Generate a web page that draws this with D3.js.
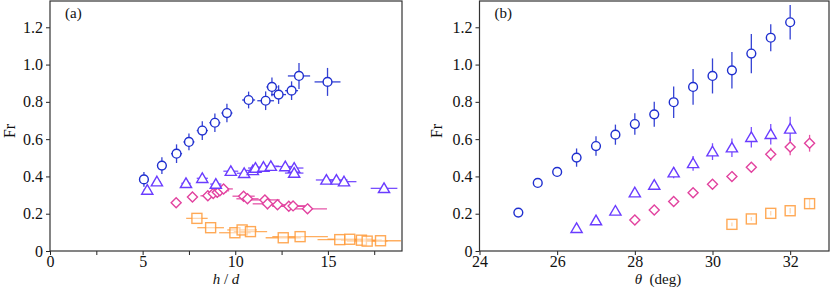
<!DOCTYPE html>
<html>
<head>
<meta charset="utf-8">
<script src="https://cdn.jsdelivr.net/npm/d3@7"></script>
<style>
  body { margin: 0; background: #fff; }
  svg { display: block; }
  svg text { font-family: "Liberation Serif", "DejaVu Serif", serif; }
</style>
</head>
<body>
<div id="chart"></div>
<script>
// ---- panel (a): Fr vs h/d ----
const aCircX    = [5.07, 6.04, 6.83, 7.50, 8.22, 8.90, 9.55, 10.72, 11.64, 11.98, 12.34, 13.04, 13.44, 14.98];
const aCircY    = [0.384, 0.458, 0.522, 0.585, 0.646, 0.688, 0.740, 0.810, 0.806, 0.880, 0.839, 0.860, 0.939, 0.907];
const aCircXErr = [0.25, 0.25, 0.3, 0.3, 0.3, 0.3, 0.3, 0.35, 0.45, 0.3, 0.4, 0.35, 0.6, 0.7];
const aCircYErr = [0.04, 0.045, 0.05, 0.045, 0.05, 0.05, 0.05, 0.045, 0.05, 0.05, 0.05, 0.05, 0.07, 0.075];

const aTriX    = [5.25, 5.77, 7.34, 8.22, 8.95, 9.76, 10.48, 10.95, 11.09, 11.52, 11.92, 12.70, 13.18, 13.18, 14.92, 15.46, 15.87, 18.03];
const aTriY    = [0.327, 0.372, 0.363, 0.390, 0.359, 0.428, 0.417, 0.432, 0.445, 0.450, 0.455, 0.453, 0.445, 0.418, 0.381, 0.381, 0.372, 0.336];
const aTriXErr = [0.2, 0.2, 0.25, 0.3, 0.3, 0.4, 0.4, 0.45, 0.4, 0.45, 0.45, 0.5, 0.5, 0.5, 0.57, 0.6, 0.67, 0.72];
const aTriYErr = [0.02, 0.015, 0.015, 0.02, 0.02, 0.015, 0.015, 0.02, 0.02, 0.02, 0.02, 0.02, 0.02, 0.02, 0.01, 0.01, 0.01, 0.01];

const aDiaX    = [6.81, 7.69, 8.52, 8.81, 9.03, 9.17, 9.37, 10.45, 10.66, 11.60, 11.74, 12.28, 12.89, 13.12, 13.90];
const aDiaY    = [0.259, 0.290, 0.296, 0.309, 0.315, 0.323, 0.333, 0.294, 0.280, 0.274, 0.253, 0.248, 0.240, 0.242, 0.226];
const aDiaXErr = [0.15, 0.2, 0.4, 0.4, 0.5, 0.5, 0.5, 0.6, 0.6, 0.8, 0.8, 0.8, 0.9, 0.9, 1.05];
const aDiaYErr = [0.01, 0.01, 0.015, 0.02, 0.03, 0.02, 0.02, 0.015, 0.02, 0.025, 0.03, 0.02, 0.02, 0.02, 0.015];

const aSqX    = [7.93, 8.67, 9.98, 10.37, 10.82, 12.59, 13.50, 15.64, 16.18, 16.81, 17.12, 17.84];
const aSqY    = [0.175, 0.125, 0.098, 0.113, 0.104, 0.071, 0.077, 0.061, 0.063, 0.058, 0.053, 0.055];
const aSqXErr = [0.58, 0.72, 0.85, 0.8, 0.9, 0.95, 1.5, 1.2, 1.2, 1.1, 1.1, 1.1];

// ---- panel (b): Fr vs theta ----
const bCircX    = [25, 25.5, 26, 26.5, 27, 27.5, 28, 28.5, 29, 29.5, 30, 30.5, 31, 31.5, 32];
const bCircY    = [0.206, 0.365, 0.424, 0.501, 0.563, 0.624, 0.681, 0.733, 0.798, 0.880, 0.939, 0.969, 1.059, 1.144, 1.227];
const bCircYErr = [0.01, 0.01, 0.01, 0.049, 0.052, 0.054, 0.058, 0.067, 0.085, 0.096, 0.094, 0.098, 0.105, 0.072, 0.092];

const bTriX    = [26.5, 27, 27.5, 28, 28.5, 29, 29.5, 30, 30.5, 31, 31.5, 32];
const bTriY    = [0.122, 0.163, 0.215, 0.313, 0.354, 0.420, 0.470, 0.533, 0.554, 0.610, 0.626, 0.655];
const bTriYErr = [0.01, 0.01, 0.01, 0.01, 0.015, 0.03, 0.04, 0.045, 0.05, 0.055, 0.055, 0.065];

const bDiaX    = [28, 28.5, 29, 29.5, 30, 30.5, 31, 31.5, 32, 32.5];
const bDiaY    = [0.166, 0.220, 0.265, 0.313, 0.358, 0.399, 0.449, 0.519, 0.558, 0.578];
const bDiaYErr = [0.01, 0.01, 0.01, 0.01, 0.015, 0.015, 0.02, 0.035, 0.045, 0.045];

const bSqX    = [30.5, 31, 31.5, 32, 32.5];
const bSqY    = [0.143, 0.172, 0.202, 0.216, 0.254];
const bSqYErr = [0.01, 0.01, 0.012, 0.015, 0.025];

const yTicks = [0, 0.2, 0.4, 0.6, 0.8, 1.0, 1.2];
const aXTicks = [0, 2.5, 5, 7.5, 10, 12.5, 15, 17.5];
const bXTicks = [24, 26, 28, 30, 32];

const colors = { circ: "#1f2fcf", tri: "#6a3cff", dia: "#e2429f", sq: "#ff9a38" };
const serif = '"Liberation Serif", "DejaVu Serif", serif';

const width = 830, height = 289;
const svg = d3.select("#chart").append("svg")
  .attr("width", width).attr("height", height);
svg.append("rect").attr("width", width).attr("height", height).attr("fill", "#fff");

const y = d3.scaleLinear().domain([0, 1.341]).range([251, 1]);
const xa = d3.scaleLinear().domain([0, 19]).range([50, 402]);
const xb = d3.scaleLinear().domain([24, 33]).range([479.5, 829]);

const symbols = {
  circ: g => g.append("circle").attr("r", 4.4),
  tri:  g => g.append("path").attr("d", "M0,-5.4 L5.6,4.2 L-5.6,4.2 Z"),
  dia:  g => g.append("path").attr("d", "M0,-5 L5,0 L0,5 L-5,0 Z"),
  sq:   g => g.append("rect").attr("x", -5).attr("y", -5).attr("width", 10).attr("height", 10)
};

function drawSeries(g, x, kind, xs, ys, xErr, yErr) {
  const color = colors[kind];
  const rows = xs.map((d, i) => ({ x: d, y: ys[i], xe: xErr ? xErr[i] : 0, ye: yErr ? yErr[i] : 0 }));
  const s = g.append("g").attr("stroke", color).attr("fill", "none")
    .attr("stroke-opacity", kind === "sq" ? 0.8 : 0.9);
  // error bars first, markers on top
  s.selectAll(".xe").data(rows.filter(d => d.xe > 0)).join("line")
    .attr("x1", d => x(d.x - d.xe)).attr("x2", d => x(d.x + d.xe))
    .attr("y1", d => y(d.y)).attr("y2", d => y(d.y))
    .attr("stroke-width", 1.3);
  s.selectAll(".ye").data(rows.filter(d => d.ye > 0)).join("line")
    .attr("x1", d => x(d.x)).attr("x2", d => x(d.x))
    .attr("y1", d => y(d.y - d.ye)).attr("y2", d => y(d.y + d.ye))
    .attr("stroke-width", 1.3);
  rows.forEach(d => {
    const m = g.append("g").attr("transform", `translate(${x(d.x)},${y(d.y)})`);
    symbols[kind](m).attr("fill", "#fff").attr("fill-opacity", kind === "sq" ? 0.5 : 1)
      .attr("stroke", color).attr("stroke-width", 1.4)
      .attr("stroke-opacity", kind === "sq" ? 0.85 : 1);
  });
}

function drawFrame(x, ticksX, labelX, label, title, labelCx, yLabelX) {
  const g = svg.append("g");
  const [x0, x1] = x.range();
  // x axis
  g.append("g").attr("transform", "translate(0,251)")
    .call(d3.axisBottom(x).tickValues(ticksX).tickSize(4).tickPadding(1)
      .tickFormat(d => labelX(d) ? d3.format("d")(d) : ""));
  // y axis
  g.append("g").attr("transform", `translate(${x0},0)`)
    .call(d3.axisLeft(y).tickValues(yTicks).tickSize(4).tickPadding(3)
      .tickFormat(d => d === 0 ? "0" : d.toFixed(1)));
  g.selectAll(".domain").remove();
  g.selectAll("g").attr("font-family", serif);
  g.selectAll(".tick line").attr("stroke", "#222");
  g.selectAll(".tick text").attr("font-size", 16).attr("fill", "#111")
    .style("font-family", serif);
  // box
  g.append("rect").attr("x", x0).attr("y", 1).attr("width", x1 - x0).attr("height", 250)
    .attr("fill", "none").attr("stroke", "#333").attr("stroke-width", 1.2);
  // labels
  g.append("text").attr("x", x0 + 15).attr("y", 18).attr("font-size", 15).attr("fill", "#111")
    .style("font-family", serif).text(label);
  g.append("text").attr("transform", `translate(${yLabelX},131) rotate(-90)`)
    .attr("text-anchor", "middle").attr("font-size", 16).attr("fill", "#111")
    .style("font-family", serif).text("Fr");
  title(g.append("text").attr("x", labelCx).attr("y", 284).attr("text-anchor", "middle")
    .attr("font-size", 15).attr("fill", "#111").style("font-family", serif));
  return g;
}

drawFrame(xa, aXTicks, d => d % 5 === 0, "(a)", t => {
  t.append("tspan").attr("font-style", "italic").text("h");
  t.append("tspan").text(" / ");
  t.append("tspan").attr("font-style", "italic").text("d");
}, 226, 15);

drawFrame(xb, bXTicks, d => true, "(b)", t => {
  t.append("tspan").attr("font-style", "italic").text("θ");
  t.append("tspan").text("\u00a0\u00a0(deg)");
}, 658, 442);

const ga = svg.append("g");
drawSeries(ga, xa, "sq", aSqX, aSqY, aSqXErr, null);
drawSeries(ga, xa, "dia", aDiaX, aDiaY, aDiaXErr, aDiaYErr);
drawSeries(ga, xa, "tri", aTriX, aTriY, aTriXErr, aTriYErr);
drawSeries(ga, xa, "circ", aCircX, aCircY, aCircXErr, aCircYErr);

const gb = svg.append("g");
drawSeries(gb, xb, "sq", bSqX, bSqY, null, bSqYErr);
drawSeries(gb, xb, "dia", bDiaX, bDiaY, null, bDiaYErr);
drawSeries(gb, xb, "tri", bTriX, bTriY, null, bTriYErr);
drawSeries(gb, xb, "circ", bCircX, bCircY, null, bCircYErr);
</script>
</body>
</html>
